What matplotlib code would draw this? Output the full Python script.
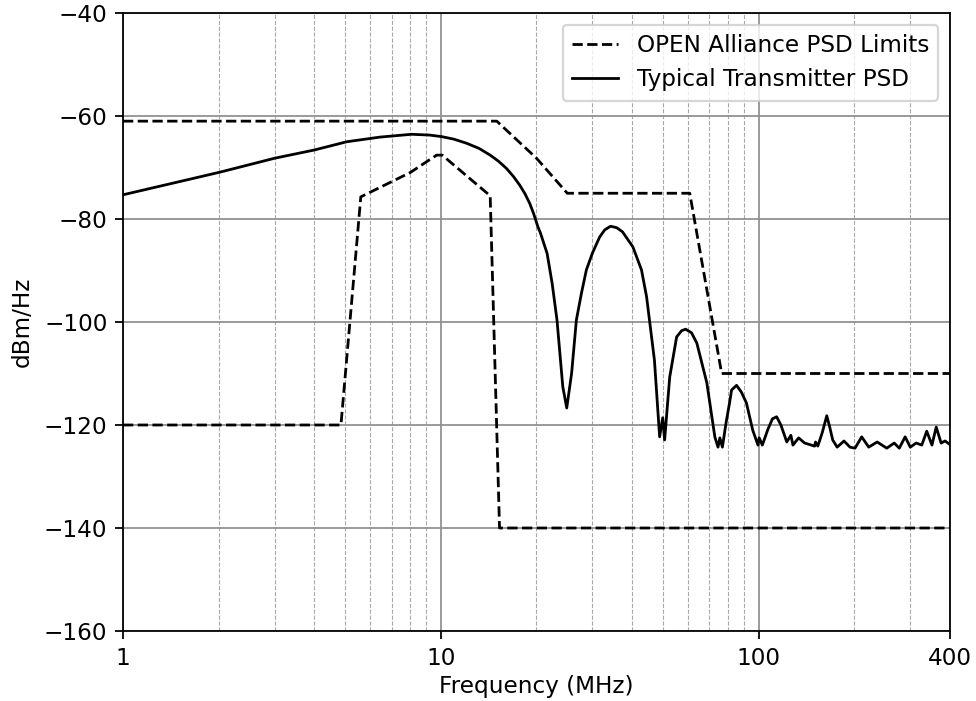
import matplotlib
matplotlib.use("Agg")
import matplotlib.pyplot as plt
from matplotlib.ticker import FixedLocator, LogLocator, NullFormatter

# OPEN Alliance PSD limits (MHz, dBm/Hz)
upper_f = [1, 15, 20, 25, 60.7, 76.5, 400]
upper_db = [-61, -61, -68.2, -75, -75, -110, -110]

lower_f = [1, 4.85, 5.6, 8.0, 9.7, 10.1, 14.3, 15.3, 400]
lower_db = [-120, -120, -75.7, -71.0, -67.6, -67.6, -75.5, -140, -140]

# Typical transmitter PSD (MHz, dBm/Hz)
tx_f = [1.0, 1.59, 2.02, 3.0, 4.0, 5.06, 6.43, 8.09, 9.2, 10.05, 11.0, 12.06,
        13.2, 14.3, 15.2, 16.1, 16.9, 17.7, 18.4, 19.05, 19.6, 20.2, 20.6, 21.6,
        22.4, 23.2, 24.2, 24.9, 25.8, 26.7, 27.7, 28.7, 30.0, 31.6, 32.8, 34.2,
        35.8, 37.3, 40.2, 42.8, 44.4, 47.0, 48.8, 49.9, 50.6, 52.5, 55.2, 57.2,
        58.9, 61.5, 63.9, 68.7, 72.8, 74.5, 75.5, 76.9, 79.0, 81.0, 82.2, 85.2,
        88.2, 91.5, 95.8, 99.5, 100.4, 102.7, 107.0, 110.5, 113.9, 117.5, 122.6,
        126.3, 128.2, 133.6, 139.5, 150.0, 151.0, 153.5, 158.5, 163.8, 167.5,
        171.0, 176.6, 185.6, 193.8, 201.0, 211.0, 222.0, 236.0, 253.0, 267.0,
        277.0, 289.0, 300.0, 313.0, 326.0, 338.0, 351.0, 362.0, 375.0, 386.0, 400.0]
tx_db = [-75.3, -72.4, -70.9, -68.2, -66.6, -65.0, -64.1, -63.55, -63.7, -64.0, -64.5, -65.3,
         -66.3, -67.6, -68.8, -70.2, -71.7, -73.4, -75.1, -77.0, -79.0, -81.5, -82.8, -86.7,
         -92.5, -99.6, -112.6, -116.7, -109.9, -99.6, -94.4, -89.9, -86.6, -83.5, -82.1, -81.4,
         -81.7, -82.5, -85.4, -89.9, -95.1, -107.4, -122.3, -118.6, -122.9, -110.7, -102.9, -101.7,
         -101.4, -102.1, -104.1, -111.8, -122.3, -124.3, -122.5, -124.3, -119.5, -115.7, -113.2, -112.3,
         -113.6, -115.7, -121.0, -123.9, -122.5, -123.9, -120.8, -118.8, -118.4, -120.0, -123.3,
         -122.0, -123.9, -122.5, -123.5, -124.1, -123.3, -124.1, -121.5, -118.2, -120.5,
         -122.9, -124.3, -123.1, -124.3, -124.5, -122.3, -124.3, -123.3, -124.5, -123.5,
         -124.5, -122.3, -124.3, -123.5, -123.9, -121.2, -123.9, -120.4, -123.5, -123.1, -123.8]

x_ticks = [1, 10, 100, 400]
x_ticklabels = ["1", "10", "100", "400"]
y_ticks = [-160, -140, -120, -100, -80, -60, -40]

plt.rcParams['font.family'] = ['DejaVu Sans']
plt.rcParams['font.size'] = 10.4
fig = plt.figure(figsize=(6.1, 4.38125), dpi=160)
ax = fig.add_axes([123/976, 1 - 631/701, (950 - 123)/976, (631 - 13)/701])

ax.plot(upper_f, upper_db, color='black', linestyle='--', linewidth=1.25,
        label='OPEN Alliance PSD Limits')
ax.plot(lower_f, lower_db, color='black', linestyle='--', linewidth=1.25)
ax.plot(tx_f, tx_db, color='black', linestyle='-', linewidth=1.25,
        label='Typical Transmitter PSD')

ax.set_xscale('log')
ax.set_xlim(1, 400)
ax.set_ylim(-160, -40)
ax.xaxis.set_major_locator(FixedLocator(x_ticks))
ax.set_xticklabels(x_ticklabels)
ax.xaxis.set_minor_locator(LogLocator(base=10, subs=range(2, 10), numticks=20))
ax.xaxis.set_minor_formatter(NullFormatter())
ax.set_yticks(y_ticks)
ax.tick_params(axis='x', which='minor', length=0)

ax.grid(True, which='major', color='#909090', linestyle='-', linewidth=0.8)
ax.grid(True, which='minor', axis='x', color='#a8a8a8', linestyle='--', linewidth=0.5)
ax.set_axisbelow(True)

ax.set_xlabel('Frequency (MHz)', labelpad=2.5)
ax.set_ylabel('dBm/Hz', labelpad=4.5)

ax.legend(loc='upper right')

fig.savefig('out.png', dpi=160)
